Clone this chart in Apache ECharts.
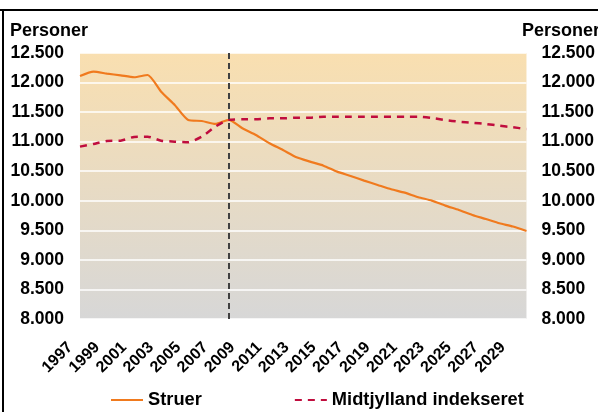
<!DOCTYPE html>
<html>
<head>
<meta charset="utf-8">
<script src="https://cdn.jsdelivr.net/npm/echarts@6/dist/echarts.min.js"></script>
<style>
html,body{margin:0;padding:0;background:#fff;}
#chart{width:598px;height:412px;}
</style>
</head>
<body>
<div id="chart"></div>
<script>
const years = ['1997','1998','1999','2000','2001','2002','2003','2004','2005','2006','2007','2008','2009','2010','2011','2012','2013','2014','2015','2016','2017','2018','2019','2020','2021','2022','2023','2024','2025','2026','2027','2028','2029','2030'];
const struer = [12110,12184,12150,12122,12090,12128,11845,11620,11366,11350,11300,11370,11226,11113,10973,10859,10735,10662,10594,10493,10420,10341,10268,10195,10138,10060,10003,9918,9845,9760,9692,9620,9564,9489];
const midtjylland = [10916,10961,11012,11017,11080,11085,11017,11000,10990,11085,11253,11370,11378,11378,11395,11395,11405,11405,11423,11423,11423,11423,11423,11423,11423,11423,11400,11366,11338,11321,11299,11270,11243,11214];
const indexYear = '2008';
const yMin = 8000, yMax = 12500, yStep = 500;
const axisTitle = 'Personer';

const fmt = v => String(v).replace(/\B(?=(\d{3})+(?!\d))/g, '.');
const font = '"Liberation Sans", Arial, sans-serif';

const chart = echarts.init(document.getElementById('chart'));
const yLabel = {fontFamily: font, fontWeight: 'bold', fontSize: 17.5, color: '#000', formatter: fmt};
chart.setOption({
  animation: false,
  backgroundColor: '#fff',
  grid: {
    left: 80, right: 67, top: 53, bottom: 93, show: true, borderWidth: 0,
    backgroundColor: new echarts.graphic.LinearGradient(0, 0, 0, 1, [
      {offset: 0, color: '#F9DFB0'},
      {offset: 1, color: '#D7D7D7'}
    ])
  },
  graphic: [
    {type: 'line', shape: {x1: 0, y1: 10, x2: 598, y2: 10}, style: {stroke: '#000', lineWidth: 2}},
    {type: 'line', shape: {x1: 3, y1: 9, x2: 3, y2: 412}, style: {stroke: '#000', lineWidth: 2}},
    {type: 'text', left: 10, top: 22, style: {text: axisTitle, font: 'bold 18px ' + font, fill: '#000'}},
    {type: 'text', left: 522, top: 22, style: {text: axisTitle, font: 'bold 18px ' + font, fill: '#000'}}
  ],
  legend: {
    left: 110, top: 391, padding: 0, itemWidth: 32, itemHeight: 14, itemGap: 92,
    itemStyle: {opacity: 0},
    textStyle: {fontFamily: font, fontWeight: 'bold', fontSize: 18.3, color: '#000'},
    data: ['Struer', 'Midtjylland indekseret']
  },
  xAxis: {
    type: 'category', data: years, boundaryGap: false,
    axisLine: {show: false}, axisTick: {show: false},
    axisLabel: {interval: 1, rotate: 45, margin: 16, padding: [0, 14, 0, 0],
      fontFamily: font, fontWeight: 'bold', fontSize: 16, color: '#000'},
    splitLine: {show: false}
  },
  yAxis: [
    {type: 'value', min: yMin, max: yMax, interval: yStep, position: 'left',
     axisLine: {show: false}, axisTick: {show: false},
     axisLabel: Object.assign({margin: 16}, yLabel),
     splitLine: {show: true, lineStyle: {color: '#FFFFFF', width: 1.5}}},
    {type: 'value', min: yMin, max: yMax, interval: yStep, position: 'right',
     axisLine: {show: false}, axisTick: {show: false},
     axisLabel: Object.assign({margin: 15}, yLabel),
     splitLine: {show: false}}
  ],
  series: [
    {name: 'Struer', type: 'line', data: struer, symbol: 'none', smooth: 0.2,
     itemStyle: {color: '#F07A1E'},
     lineStyle: {color: '#F07A1E', width: 2.2},
     markLine: {symbol: 'none', silent: true, label: {show: false},
       lineStyle: {color: '#404040', type: [6, 4], width: 2},
       data: [{xAxis: indexYear}]}},
    {name: 'Midtjylland indekseret', type: 'line', data: midtjylland, symbol: 'none', smooth: 0.2,
     itemStyle: {color: '#C00D3E'},
     lineStyle: {color: '#C00D3E', width: 2.5, type: [7, 6]}}
  ]
});
</script>
</body>
</html>
